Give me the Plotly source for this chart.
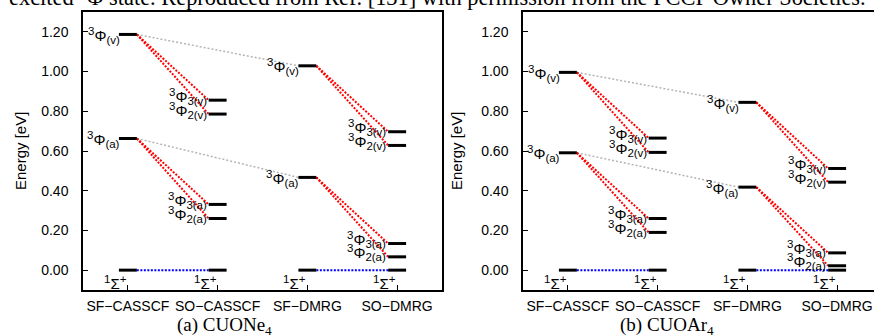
import plotly.graph_objects as go

# ---------------- data ----------------
categories = ["SF−CASSCF", "SO−CASSCF", "SF−DMRG", "SO−DMRG"]
y_tick_values = [0.0, 0.2, 0.4, 0.6, 0.8, 1.0, 1.2]

# SF columns: [1Σ+, 3Φ(a), 3Φ(v)]
# SO columns: [1Σ+, 3Φ2(a), 3Φ3(a), 3Φ2(v), 3Φ3(v)]
cuone4_sf_casscf = [0.000, 0.663, 1.187]
cuone4_so_casscf = [0.000, 0.260, 0.331, 0.786, 0.856]
cuone4_sf_dmrg = [0.000, 0.467, 1.029]
cuone4_so_dmrg = [0.000, 0.067, 0.134, 0.628, 0.697]

cuoar4_sf_casscf = [0.000, 0.591, 0.996]
cuoar4_so_casscf = [0.000, 0.190, 0.260, 0.593, 0.665]
cuoar4_sf_dmrg = [0.000, 0.418, 0.845]
cuoar4_so_dmrg = [0.000, 0.022, 0.087, 0.443, 0.512]

sf_labels = ["(a)", "(v)"]
so_labels = ["2(a)", "3(a)", "2(v)", "3(v)"]
panel_captions = ["(a) CUONe<sub>4</sub>", "(b) CUOAr<sub>4</sub>"]
header_text = ("excited <sup>3</sup>Φ state. Reproduced from Ref. [131] with "
               "permission from the PCCP Owner Societies.")

# ---------------- layout geometry ----------------
W, H = 874, 335
HW = 0.1  # half width of an energy level
SANS = "Liberation Sans, Arial, sans-serif"
SERIF = "Liberation Serif, Times New Roman, serif"

left_px = (83, 442)
right_px = (523, 874)
plot_top, plot_bot = 12, 290
unit_px = (left_px[1] - left_px[0]) / 4.0

fig = go.Figure()


def small(t):
    return "<span style='font-size:11.5px'>%s</span>" % t


def phi_label(tag):
    return "<sup>%s</sup>Φ<sub>%s</sub>" % (small("3"), small(tag))


def sigma_label():
    return "<sup>%s</sup>Σ<sup>%s</sup>" % (small("1"), small("+"))


def add_panel(xr, yr, sf_cas, so_cas, sf_dm, so_dm):
    gx, gy, rx, ry, bx, by, lx, ly = [], [], [], [], [], [], [], []
    for i in (1, 2):
        gx += [1 + HW, 3 - HW, None]
        gy += [sf_cas[i], sf_dm[i], None]
    for sf_pos, sf, so in ((1, sf_cas, so_cas), (3, sf_dm, so_dm)):
        so_pos = sf_pos + 1
        bx += [sf_pos + HW, so_pos - HW, None]
        by += [sf[0], so[0], None]
        for i_sf, i_so in ((1, 1), (1, 2), (2, 3), (2, 4)):
            rx += [sf_pos + HW, so_pos - HW, None]
            ry += [sf[i_sf], so[i_so], None]
    for pos, col in zip((1, 2, 3, 4), (sf_cas, so_cas, sf_dm, so_dm)):
        for v in col:
            lx += [pos - HW, pos + HW, None]
            ly += [v, v, None]
    common = dict(mode="lines", xaxis=xr, yaxis=yr, hoverinfo="skip", showlegend=False)
    fig.add_trace(go.Scatter(x=gx, y=gy, line=dict(color="#b4b4b4", width=1.5, dash="2px,2px"), **common))
    fig.add_trace(go.Scatter(x=rx, y=ry, line=dict(color="#ff0000", width=2, dash="2px,1.5px"), **common))
    fig.add_trace(go.Scatter(x=bx, y=by, line=dict(color="#0000ff", width=2, dash="2px,1.5px"), **common))
    fig.add_trace(go.Scatter(x=lx, y=ly, line=dict(color="black", width=3), **common))

    font = dict(family=SANS, size=15, color="black")
    for pos, col in ((1, sf_cas), (3, sf_dm)):
        for v, tag in zip(col[1:], sf_labels):
            fig.add_annotation(x=pos - HW, y=v, xref=xr, yref=yr, text=phi_label(tag),
                               showarrow=False, xanchor="right", yanchor="middle", xshift=3, yshift=-1, font=font)
    for pos, col in ((2, so_cas), (4, so_dm)):
        for v, tag in zip(col[1:], so_labels):
            fig.add_annotation(x=pos - HW, y=v, xref=xr, yref=yr, text=phi_label(tag),
                               showarrow=False, xanchor="right", yanchor="middle", xshift=0, yshift=4, font=font)
    for pos, col in zip((1, 2, 3, 4), (sf_cas, so_cas, sf_dm, so_dm)):
        fig.add_annotation(x=pos, y=col[0], xref=xr, yref=yr, text=sigma_label(),
                           showarrow=False, xanchor="right", yanchor="top", xshift=1, yshift=-1, font=font)


add_panel("x", "y", cuone4_sf_casscf, cuone4_so_casscf, cuone4_sf_dmrg, cuone4_so_dmrg)
add_panel("x2", "y2", cuoar4_sf_casscf, cuoar4_so_casscf, cuoar4_sf_dmrg, cuoar4_so_dmrg)

ydom = [(H - plot_bot) / H, (H - plot_top) / H]
axis_common = dict(showgrid=False, zeroline=False, showline=True, linecolor="black", linewidth=1.5,
                   ticks="inside", ticklen=5, tickwidth=1.2, tickcolor="black",
                   tickfont=dict(family=SANS, size=14, color="black"))
right_range_max = 0.5 + (right_px[1] - right_px[0]) / unit_px

fig.update_layout(
    width=W, height=H, margin=dict(l=0, r=0, t=0, b=0),
    paper_bgcolor="white", plot_bgcolor="white", showlegend=False, hovermode=False,
    xaxis=dict(domain=[left_px[0] / W, left_px[1] / W], range=[0.5, 4.5], anchor="y",
               tickvals=[1, 2, 3, 4], ticktext=categories, mirror=True, ticklabelstandoff=2, **axis_common),
    yaxis=dict(domain=ydom, range=[-0.1, 1.3], anchor="x", tickvals=y_tick_values, tickformat=".2f",
               mirror=True, ticklabelstandoff=10, **axis_common),
    xaxis2=dict(domain=[right_px[0] / W, 1.0], range=[0.5, right_range_max], anchor="y2",
                tickvals=[1, 2, 3, 4], ticktext=categories, mirror=True, ticklabelstandoff=2, **axis_common),
    yaxis2=dict(domain=ydom, range=[-0.1, 1.3], anchor="x2", tickvals=y_tick_values, tickformat=".2f",
                mirror=False, ticklabelstandoff=10, **axis_common),
)

# axis titles
for xp in (20, 456):
    fig.add_annotation(x=xp / W, y=(H - 151) / H, xref="paper", yref="paper", text="Energy [eV]",
                       textangle=-90, showarrow=False, xanchor="center", yanchor="middle",
                       font=dict(family=SANS, size=15, color="black"))
# panel captions
for xp, cap in zip((224, 667), panel_captions):
    fig.add_annotation(x=xp / W, y=(H - 326) / H, xref="paper", yref="paper", text=cap,
                       showarrow=False, xanchor="center", yanchor="middle",
                       font=dict(family=SERIF, size=19, color="black"))
# cropped header text
fig.add_annotation(x=437 / W, y=1 + 4 / H, xref="paper", yref="paper", text=header_text,
                   showarrow=False, xanchor="center", yanchor="middle",
                   font=dict(family=SERIF, size=22.4, color="black"))

fig.write_html("out.html", config={"displayModeBar": False},
               post_script="document.body.style.margin='0px';document.body.style.overflow='hidden';")
